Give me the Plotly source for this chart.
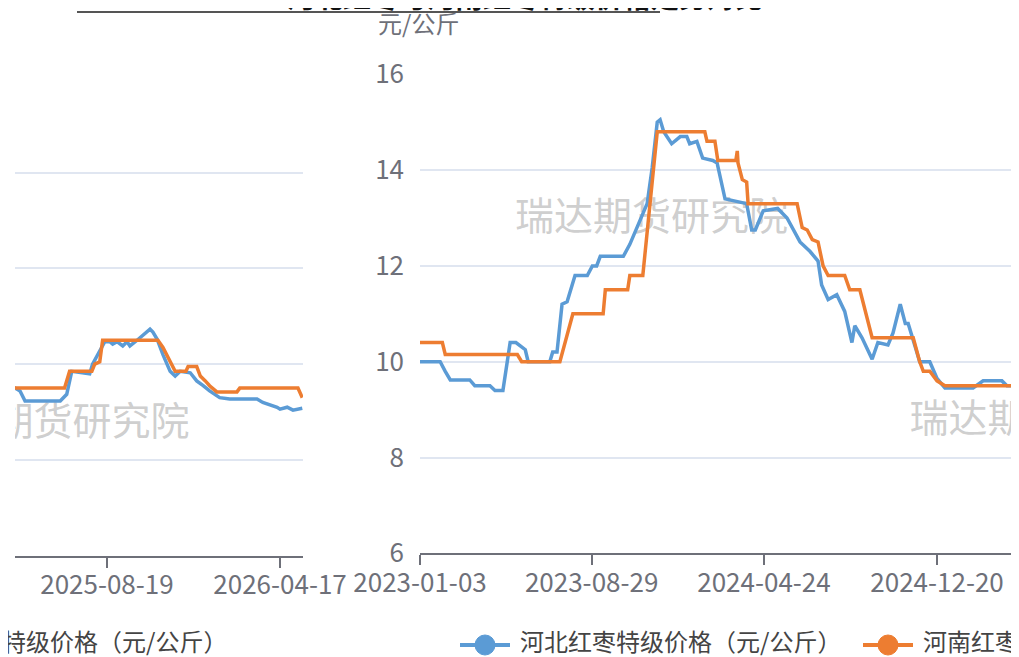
import plotly.graph_objects as go

W, H = 1019, 657
OFF = 8  # the page body margin shifts the figure by 8px; positions below are screen pixels

# ---------------- data ----------------
hebei_dates = [
    "2023-01-03", "2023-01-31", "2023-02-07", "2023-02-14", "2023-03-13", "2023-03-20",
    "2023-04-10", "2023-04-17", "2023-04-28", "2023-05-08", "2023-05-16", "2023-05-29",
    "2023-06-02", "2023-07-02", "2023-07-06", "2023-07-12", "2023-07-19", "2023-07-26",
    "2023-08-06", "2023-08-23", "2023-08-30", "2023-09-05", "2023-09-10", "2023-10-12",
    "2023-10-21", "2023-10-31", "2023-11-14", "2023-11-21", "2023-11-28", "2023-12-02",
    "2023-12-07", "2023-12-18", "2023-12-30", "2024-01-08", "2024-01-12", "2024-01-22",
    "2024-01-30", "2024-02-13", "2024-02-19", "2024-03-01", "2024-03-18", "2024-03-31",
    "2024-04-07", "2024-04-12", "2024-04-23", "2024-05-13", "2024-05-26", "2024-06-13",
    "2024-06-27", "2024-07-08", "2024-07-13", "2024-07-22", "2024-08-03", "2024-08-14",
    "2024-08-24", "2024-08-28", "2024-09-07", "2024-09-21", "2024-09-29", "2024-10-13",
    "2024-10-20", "2024-10-30", "2024-11-06", "2024-11-10", "2024-11-19", "2024-11-26",
    "2024-12-10", "2024-12-20", "2024-12-31", "2025-02-08", "2025-02-22", "2025-03-20",
    "2025-03-27", "2025-04-13",
    "2025-04-20", "2025-04-27", "2025-06-15", "2025-06-19", "2025-06-24", "2025-07-01",
    "2025-07-26", "2025-07-30", "2025-08-06", "2025-08-16", "2025-08-23", "2025-08-27",
    "2025-09-02", "2025-09-10", "2025-09-16", "2025-09-20", "2025-09-30", "2025-10-08",
    "2025-10-18", "2025-10-22", "2025-10-28", "2025-11-05", "2025-11-15", "2025-11-22",
    "2025-11-29", "2025-12-13", "2025-12-22", "2025-12-31", "2026-01-09", "2026-01-23",
    "2026-02-06", "2026-03-16", "2026-03-24", "2026-04-13", "2026-04-17", "2026-04-27",
    "2026-05-05", "2026-05-18",
]
hebei_vals = [
    10.0, 10.0, 9.8, 9.62, 9.62, 9.5,
    9.5, 9.4, 9.4, 10.4, 10.4, 10.25,
    10.0, 10.0, 10.2, 10.2, 11.2, 11.25,
    11.8, 11.8, 12.0, 12.0, 12.2, 12.2,
    12.45, 12.8, 13.3, 14.05, 15.0, 15.05,
    14.8, 14.55, 14.7, 14.7, 14.55, 14.6,
    14.25, 14.2, 14.15, 13.4, 13.35, 13.3,
    12.75, 12.75, 13.15, 13.2, 13.0, 12.5,
    12.3, 12.1, 11.6, 11.3, 11.4, 11.05,
    10.4, 10.75, 10.5, 10.05, 10.4, 10.35,
    10.6, 11.2, 10.8, 10.8, 10.35, 10.0,
    10.0, 9.65, 9.45, 9.45, 9.6, 9.6,
    9.5, 9.5,
    9.44, 9.23, 9.23, 9.3, 9.37, 9.85,
    9.8, 10.0, 10.2, 10.47, 10.47, 10.42,
    10.47, 10.38, 10.47, 10.38, 10.5, 10.6,
    10.73, 10.67, 10.52, 10.2, 9.85, 9.75,
    9.85, 9.82, 9.65, 9.55, 9.44, 9.3,
    9.27, 9.27, 9.2, 9.1, 9.06, 9.1,
    9.04, 9.08,
]

henan_dates = [
    "2023-01-03", "2023-02-03", "2023-02-07", "2023-05-18", "2023-05-24", "2023-07-16",
    "2023-08-03", "2023-09-14", "2023-09-17", "2023-10-18", "2023-10-21", "2023-11-08",
    "2023-11-28", "2024-02-02", "2024-02-05", "2024-02-16", "2024-02-20", "2024-03-16",
    "2024-03-18", "2024-03-19", "2024-03-25", "2024-03-31", "2024-04-02", "2024-06-09",
    "2024-06-16", "2024-06-23", "2024-06-30", "2024-07-08", "2024-07-15", "2024-07-22",
    "2024-08-14", "2024-08-21", "2024-09-04", "2024-09-21", "2024-11-17", "2024-11-26",
    "2024-12-01", "2024-12-10", "2024-12-20", "2024-12-31", "2025-04-13",
    "2025-06-21", "2025-06-28", "2025-07-29", "2025-08-02", "2025-08-09", "2025-08-13",
    "2025-10-29", "2025-11-05", "2025-11-15", "2025-11-22", "2025-12-07", "2025-12-10",
    "2025-12-22", "2025-12-27", "2026-01-03", "2026-01-09", "2026-01-19", "2026-02-16",
    "2026-02-20", "2026-05-12", "2026-05-18",
]
henan_vals = [
    10.4, 10.4, 10.15, 10.15, 10.0, 10.0,
    11.0, 11.0, 11.5, 11.5, 11.8, 11.8,
    14.8, 14.8, 14.6, 14.6, 14.2, 14.2,
    14.4, 14.15, 13.8, 13.75, 13.3, 13.3,
    12.8, 12.75, 12.55, 12.5, 12.0, 11.8,
    11.8, 11.5, 11.5, 10.5, 10.5, 10.0,
    9.8, 9.8, 9.6, 9.5, 9.5,
    9.5, 9.85, 9.85, 10.0, 10.05, 10.5,
    10.5, 10.35, 10.05, 9.85, 9.85, 9.95,
    9.95, 9.75, 9.65, 9.55, 9.42, 9.42,
    9.5, 9.5, 9.3,
]

hebei_name = "河北红枣特级价格（元/公斤）"
henan_name = "河南红枣特级价格（元/公斤）"
unit_label = "元/公斤"
watermark = "瑞达期货研究院"
title_text = "河北红枣与河南红枣特级价格走势对比"

right_ticks = ["2023-01-03", "2023-08-29", "2024-04-24", "2024-12-20"]
left_ticks = ["2025-08-19", "2026-04-17"]
y_ticks = [6, 8, 10, 12, 14, 16]

# ---------------- style ----------------
BLUE = "#5b9bd5"
ORANGE = "#ed7d31"
AXIS = "#6E7079"
GRID = "#E0E6F1"
WM = "rgba(165,165,165,0.55)"
FONT = "Noto Sans CJK SC"


def px(x):
    return (x - OFF) / W


def py(y):
    return 1 - (y - OFF) / H


fig = go.Figure()

# watermarks (clipped to their plot areas)
fig.add_trace(go.Scatter(x=["2023-11-20"], y=[12.96], mode="text", text=[watermark],
                         textposition="middle center",
                         textfont=dict(size=39, color=WM, family=FONT),
                         hoverinfo="skip", showlegend=False, xaxis="x", yaxis="y"))
fig.add_trace(go.Scatter(x=["2024-11-12"], y=[8.74], mode="text", text=[watermark],
                         textposition="middle right",
                         textfont=dict(size=39, color=WM, family=FONT),
                         hoverinfo="skip", showlegend=False, xaxis="x", yaxis="y"))
fig.add_trace(go.Scatter(x=["2025-06-05"], y=[8.72], mode="text", text=[watermark],
                         textposition="middle center",
                         textfont=dict(size=39, color=WM, family=FONT),
                         hoverinfo="skip", showlegend=False, xaxis="x2", yaxis="y2"))

for xa, ya in (("x", "y"), ("x2", "y2")):
    fig.add_trace(go.Scatter(x=hebei_dates, y=hebei_vals, mode="lines", name=hebei_name,
                             line=dict(color=BLUE, width=3.5), showlegend=False,
                             xaxis=xa, yaxis=ya))
    fig.add_trace(go.Scatter(x=henan_dates, y=henan_vals, mode="lines", name=henan_name,
                             line=dict(color=ORANGE, width=3.5), showlegend=False,
                             xaxis=xa, yaxis=ya))

# clipped title at the very top (only the bottom of the glyphs shows)
fig.add_trace(go.Scatter(x=[0.5], y=[2.8], mode="text", text=["<b>" + title_text + "</b>"],
                         textposition="middle center",
                         textfont=dict(size=28, color="#111111", family=FONT),
                         hoverinfo="skip", showlegend=False, xaxis="x3", yaxis="y3"))

tickfont = dict(size=26, color=AXIS, family=FONT)

fig.update_layout(
    width=W, height=H,
    margin=dict(l=0, r=0, t=0, b=0, autoexpand=False),
    paper_bgcolor="white", plot_bgcolor="white",
    font=dict(family=FONT),
    xaxis=dict(domain=[px(420), 1.0], type="date",
               range=["2023-01-03", "2025-04-23 19:00"],
               tickvals=right_ticks, ticktext=right_ticks, ticks="outside", ticklen=10,
               tickwidth=2, tickcolor=AXIS, showline=True, linecolor=AXIS, linewidth=2,
               showgrid=False, zeroline=False, tickfont=tickfont, anchor="y",
               ticklabelstandoff=-5, automargin=False),
    yaxis=dict(domain=[py(553.3), py(74.3)], range=[6, 16], tickvals=y_ticks,
               showgrid=True, gridcolor=GRID, gridwidth=1.5, zeroline=False,
               showline=False, ticks="", tickfont=tickfont, ticklabelstandoff=15,
               anchor="x", automargin=False),
    xaxis2=dict(domain=[px(15), px(303)], type="date", range=["2025-04-13", "2026-05-19"],
                tickvals=left_ticks, ticktext=left_ticks, ticks="outside", ticklen=10,
                tickwidth=2, tickcolor=AXIS, showline=True, linecolor=AXIS, linewidth=2,
                showgrid=False, zeroline=False, tickfont=tickfont, anchor="y2",
                ticklabelstandoff=-5, automargin=False),
    yaxis2=dict(domain=[py(555.6), py(77)], range=[6, 16], tickvals=y_ticks,
                showgrid=True, gridcolor=GRID, gridwidth=1.5, zeroline=False,
                showline=False, ticks="", showticklabels=False, anchor="x2",
                automargin=False),
    xaxis3=dict(domain=[px(200), px(850)], range=[0, 1], visible=False, anchor="y3",
                automargin=False),
    yaxis3=dict(domain=[py(12), 1.0], range=[0, 1], visible=False, anchor="x3",
                automargin=False),
)

shapes = [
    # title underline remnant
    dict(type="line", xref="paper", yref="paper", x0=px(77), x1=px(660), y0=py(12), y1=py(12),
         line=dict(color="#555555", width=2)),
    # legend symbols
    dict(type="line", xref="paper", yref="paper", x0=px(460), x1=px(510), y0=py(645), y1=py(645),
         line=dict(color=BLUE, width=4)),
    dict(type="circle", xref="paper", yref="paper", x0=px(475), x1=px(495), y0=py(655), y1=py(635),
         fillcolor=BLUE, line=dict(color=BLUE, width=1)),
    dict(type="line", xref="paper", yref="paper", x0=px(863), x1=px(913), y0=py(645), y1=py(645),
         line=dict(color=ORANGE, width=4)),
    dict(type="circle", xref="paper", yref="paper", x0=px(878), x1=px(898), y0=py(655), y1=py(635),
         fillcolor=ORANGE, line=dict(color=ORANGE, width=1)),
]
fig.update_layout(shapes=shapes)

legfont = dict(size=24, color="#444444", family=FONT)
annotations = [
    dict(text=unit_label, xref="paper", yref="paper", x=px(376), y=py(22), xanchor="left",
         yanchor="middle", showarrow=False, font=dict(size=24, color=AXIS, family=FONT)),
    dict(text=hebei_name, xref="paper", yref="paper", x=px(518), y=py(640), xanchor="left",
         yanchor="middle", showarrow=False, font=legfont),
    dict(text=henan_name, xref="paper", yref="paper", x=px(921), y=py(640), xanchor="left",
         yanchor="middle", showarrow=False, font=legfont),
    dict(text=henan_name, xref="paper", yref="paper", x=px(229), y=py(640), xanchor="right",
         yanchor="middle", showarrow=False, font=legfont),
]
fig.update_layout(annotations=annotations)

fig.write_html("out.html")
